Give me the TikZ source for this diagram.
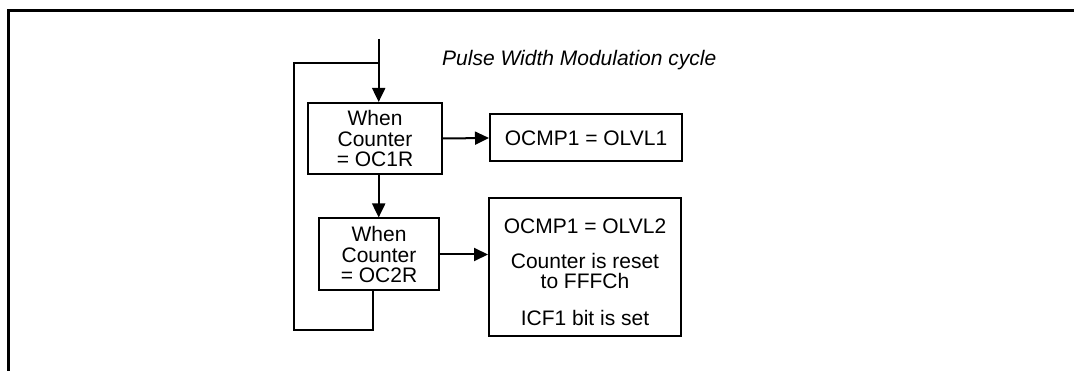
\documentclass[tikz,border=0pt]{standalone}
\usepackage{fontspec}
\setmainfont{Liberation Sans}
\usetikzlibrary{arrows.meta}
\tikzset{
  box/.style={draw, line width=2pt, inner sep=0pt, align=center, font=\fontsize{21}{20.5}\selectfont},
  conn/.style={line width=2pt},
  arr/.style={conn, -{Triangle[length=14pt,width=13pt]}},
  frameline/.style={line width=2.8pt}
}
\begin{document}
\begin{tikzpicture}[x=1pt,y=-1pt]
\useasboundingbox (0,0) rectangle (1074,371);
% frame
\coordinate (fTR) at (1074,10.5);
\coordinate (fTL) at (8.7,10.5);
\coordinate (fBL) at (8.7,371);
\draw[frameline] (fTR) -- (fTL) -- (fBL);
% boxes
\node[box, minimum width=134pt, minimum height=71pt] (b1) at (375,138.5) {When\\Counter\\= OC1R};
\node[box, minimum width=192pt, minimum height=47pt] (o1) at (586,138) {OCMP1 = OLVL1};
\node[box, minimum width=120pt, minimum height=72pt] (b2) at (379,254.5) {When\\Counter\\= OC2R};
\node[box, minimum width=192pt, minimum height=138pt] (o2) at (585,267) {};
\node[font=\fontsize{21}{20.5}\selectfont] (t1) at (585,226) {OCMP1 = OLVL2};
\node[font=\fontsize{21}{20.5}\selectfont, align=center] (t2) at (585,271) {Counter is reset\\to FFFCh};
\node[font=\fontsize{21}{20.5}\selectfont] (t3) at (585,318) {ICF1 bit is set};
% label
\node[font=\fontsize{21}{21}\selectfont\itshape, anchor=west, inner sep=0pt] (lbl) at (442,60) {Pulse Width Modulation cycle};
% connectors
\coordinate (in) at (378.7,39);
\coordinate (join) at (378.7,62.7);
\coordinate (m1) at (378.7,174);
\coordinate (b2out) at (372.7,290);
\coordinate (lb) at (372.7,330);
\coordinate (lbl2) at (294,330);
\coordinate (lt) at (294,62.7);
\draw[arr] (in) -- (in |- b1.north);
\draw[conn] (b2out) -- (lb) -- (lbl2) -- (lt) -- (join);
\draw[arr] (b1.east) -- (o1.west);
\draw[arr] (m1) -- (m1 |- b2.north);
\draw[arr] (b2.east) -- (b2.east -| o2.west);
\end{tikzpicture}
\end{document}
